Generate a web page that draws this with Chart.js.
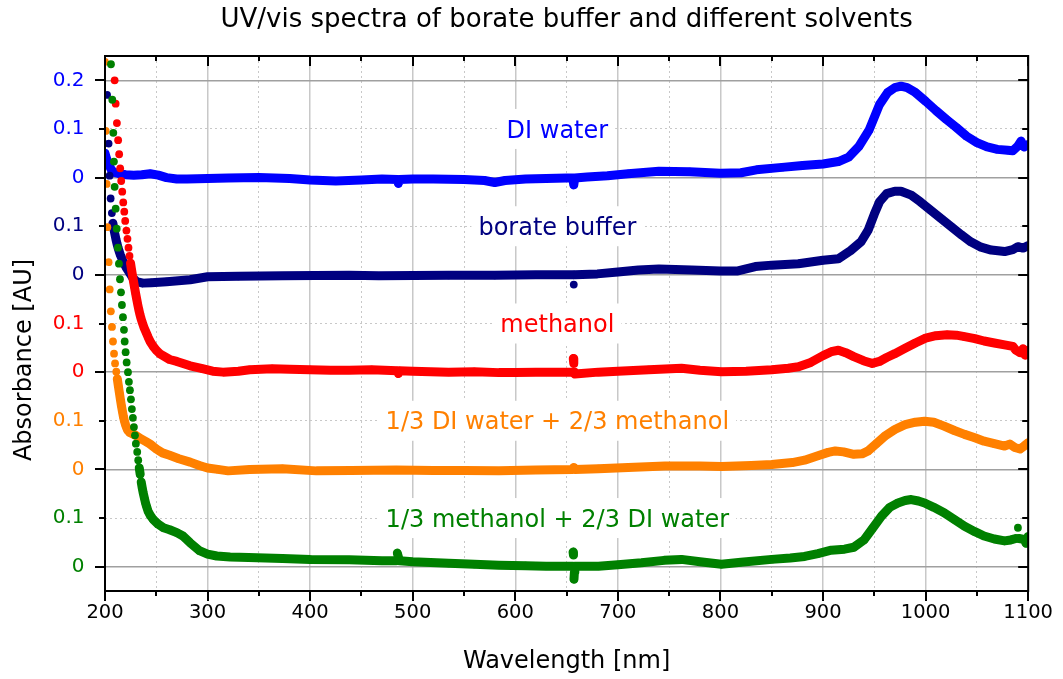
<!DOCTYPE html>
<html><head><meta charset="utf-8">
<script src="https://cdn.jsdelivr.net/npm/chart.js@4"></script>
<style>html,body{margin:0;padding:0;background:#fff;}#wrap{position:relative;width:1063px;height:679px;}</style>
</head><body><div id="wrap"><canvas id="c" width="1063" height="679"></canvas></div>
<script>
const chartTitle = 'UV/vis spectra of borate buffer and different solvents';
const xAxisTitle = 'Wavelength [nm]';
const yAxisTitle = 'Absorbance [AU]';

const seriesNames = ['DI water', 'borate buffer', 'methanol', '1/3 DI water + 2/3 methanol', '1/3 methanol + 2/3 DI water'];
const seriesColors = ['#0000ff', '#000080', '#ff0000', '#ff8000', '#008000'];
const seriesOffsets = [0.8, 0.6, 0.4, 0.2, 0.0];
const labelWavelength = 641;

const yTickValues = [0, 0.1, 0.2, 0.3, 0.4, 0.5, 0.6, 0.7, 0.8, 0.9, 1.0];
const yTickLabels = ['0', '0.1', '0', '0.1', '0', '0.1', '0', '0.1', '0', '0.1', '0.2'];
const yTickColors = ['#008000', '#008000', '#ff8000', '#ff8000', '#ff0000', '#ff0000', '#000080', '#000080', '#0000ff', '#0000ff', '#0000ff'];
const xTickStep = 50;

const waterWl = [200,201,202,204,206,208,210,214,220,228,236,244,252,260,270,280,300,320,350,380,400,425,450,470,485,486,487,500,520,550,570,580,590,610,630,650,656,657,658,670,690,710,740,770,800,820,835,860,880,900,915,925,935,945,955,963,970,976,982,990,1000,1010,1020,1030,1040,1050,1060,1070,1080,1085,1090,1093,1096,1100];
const waterAbs = [0.050,0.043,0.036,0.025,0.017,0.012,0.010,0.008,0.006,0.005,0.006,0.008,0.005,0.000,-0.003,-0.003,-0.002,-0.001,0.000,-0.002,-0.005,-0.007,-0.005,-0.003,-0.004,-0.012,-0.004,-0.003,-0.003,-0.004,-0.006,-0.010,-0.006,-0.003,-0.002,-0.001,-0.001,-0.015,-0.001,0.001,0.004,0.008,0.013,0.012,0.009,0.010,0.016,0.021,0.025,0.028,0.033,0.042,0.064,0.098,0.150,0.175,0.185,0.188,0.185,0.175,0.157,0.138,0.120,0.103,0.085,0.072,0.063,0.058,0.056,0.055,0.065,0.075,0.063,0.068];

const borateWl = [202,203.5,204.5,205.5,206.7,207.7,208.7,209.7,210.7,211.7,212.7,213.7,215,217,219,221,224,227,231,237,245,260,283,300,330,373,438,467,535,580,620,650,656,657,658,680,700,720,740,772,800,817,834,850,876,900,915,927,937,944,950,955,962,970,976,986,995,1005,1015,1025,1035,1044,1054,1064,1077,1085,1090,1095,1100];
const borateAbs = [0.370,0.270,0.204,0.157,0.127,0.106,0.094,0.083,0.073,0.064,0.056,0.049,0.041,0.031,0.022,0.014,0.004,-0.006,-0.014,-0.017,-0.016,-0.014,-0.010,-0.004,-0.003,-0.002,-0.001,-0.002,-0.001,-0.001,0.000,0.000,0.000,-0.020,0.000,0.002,0.006,0.010,0.012,0.010,0.008,0.008,0.017,0.020,0.023,0.030,0.033,0.050,0.068,0.092,0.125,0.150,0.167,0.172,0.172,0.164,0.150,0.133,0.116,0.099,0.082,0.068,0.057,0.051,0.048,0.052,0.058,0.055,0.060];

const methanolWl = [208.5,209.4,210.4,211.6,212.8,213.8,214.8,215.8,216.8,217.8,218.8,219.7,220.9,221.9,222.9,223.9,224.9,225.9,227,228,229,230,231,232,233,234,235,236,238,240,242,244,247,250,254,263,270,283,295,305,315,330,341,363,380,400,420,438,460,485,486,487,500,535,560,584,600,620,640,656,656.5,657,657.5,658,681,700,730,762,780,801,825,850,866,876,888,900,908,915,922,930,940,948,955,962,970,980,990,1000,1010,1021,1030,1038,1048,1057,1067,1077,1085,1088,1092,1095,1097,1100];
const methanolAbs = [0.660,0.600,0.552,0.512,0.477,0.448,0.419,0.393,0.371,0.349,0.330,0.311,0.291,0.274,0.256,0.239,0.224,0.210,0.196,0.184,0.172,0.160,0.149,0.138,0.128,0.119,0.111,0.104,0.092,0.082,0.072,0.063,0.053,0.045,0.037,0.026,0.022,0.013,0.007,0.002,0.000,0.002,0.005,0.007,0.006,0.005,0.004,0.004,0.005,0.003,-0.003,0.003,0.002,0.000,0.001,-0.001,-0.001,0.000,0.000,0.000,0.028,0.018,0.000,-0.004,0.000,0.002,0.005,0.008,0.004,0.001,0.002,0.005,0.008,0.011,0.020,0.034,0.042,0.045,0.040,0.032,0.023,0.018,0.022,0.030,0.038,0.049,0.060,0.070,0.075,0.077,0.076,0.073,0.069,0.064,0.060,0.056,0.053,0.045,0.040,0.048,0.035,0.045];

const mixAWl = [200,200.7,201.6,202.3,203.5,204.6,205.7,206.8,207.8,208.8,209.8,211,212,213,214,215,216,217,218,219,220,221,222,224,227,230,234,240,244,250,256,263,272,283,292,300,310,320,341,373,406,440,484,520,550,584,620,656,657,658,681,710,746,780,801,830,850,870,882,895,905,912,920,930,938,944,952,960,970,980,990,999,1008,1018,1028,1038,1048,1057,1067,1077,1082,1087,1092,1096,1100];
const mixAAbs = [0.838,0.696,0.587,0.498,0.426,0.370,0.325,0.293,0.263,0.238,0.218,0.201,0.186,0.172,0.158,0.144,0.131,0.119,0.108,0.099,0.092,0.086,0.081,0.076,0.073,0.070,0.064,0.057,0.052,0.042,0.034,0.029,0.022,0.015,0.008,0.003,0.000,-0.003,0.000,0.0015,-0.003,-0.002,-0.001,-0.002,-0.002,-0.003,-0.001,0.000,0.004,0.000,0.0015,0.004,0.007,0.007,0.006,0.008,0.010,0.014,0.019,0.028,0.035,0.038,0.036,0.031,0.032,0.038,0.053,0.068,0.082,0.092,0.097,0.099,0.097,0.089,0.080,0.072,0.065,0.058,0.053,0.048,0.052,0.045,0.042,0.048,0.055];

const mixBWl = [205,205.8,207.1,208.1,208.7,209.4,210.4,211.4,212.6,213.6,214.6,215.6,216.5,217.5,218.5,219.2,220.1,221.1,222.4,223.3,224.3,225.3,226.2,227.2,228.2,229.2,230.1,231.4,232.4,233.4,234.3,235.3,236.3,237.2,238.5,239.5,240.5,242,244,247,252,257,263,270,276,283,292,300,309,322,340,373,400,438,470,484,485,486,487,500,535,560,584,610,630,656,656.3,656.7,657.2,657.6,658,681,700,723,745,762,780,801,820,850,868,882,895,908,921,930,940,948,957,965,973,980,986,993,999,1008,1018,1028,1038,1048,1057,1067,1077,1083,1088,1090,1091,1096,1098,1100];
const mixBAbs = [1.100,1.033,0.960,0.892,0.833,0.781,0.736,0.695,0.656,0.623,0.591,0.564,0.538,0.513,0.487,0.463,0.441,0.420,0.400,0.380,0.363,0.344,0.324,0.306,0.287,0.270,0.253,0.236,0.219,0.203,0.190,0.174,0.162,0.152,0.140,0.131,0.124,0.114,0.106,0.097,0.087,0.080,0.076,0.070,0.063,0.049,0.033,0.026,0.022,0.020,0.019,0.017,0.015,0.014,0.012,0.012,0.028,0.020,0.012,0.010,0.007,0.005,0.003,0.002,0.001,0.001,0.030,0.024,-0.026,-0.012,0.001,0.001,0.004,0.008,0.013,0.015,0.010,0.005,0.009,0.015,0.018,0.021,0.027,0.034,0.036,0.040,0.055,0.078,0.104,0.122,0.131,0.136,0.138,0.135,0.131,0.122,0.111,0.097,0.083,0.072,0.063,0.057,0.053,0.055,0.058,0.080,0.058,0.056,0.048,0.062];

const seriesWl = [waterWl, borateWl, methanolWl, mixAWl, mixBWl];
const seriesAbs = [waterAbs, borateAbs, methanolAbs, mixAAbs, mixBAbs];

const FONT = '"DejaVu Sans", "Liberation Sans", Arial, sans-serif';

function steepSegment(ctx) {
  const dx = Math.abs(ctx.p1.x - ctx.p0.x);
  const dy = Math.abs(ctx.p1.y - ctx.p0.y);
  return dy > 7 && dx < 3;
}

const datasets = seriesWl.map((wl, i) => ({
  label: seriesNames[i],
  data: wl.map((w, j) => ({x: w, y: seriesAbs[i][j] + seriesOffsets[i]})),
  showLine: true,
  borderColor: seriesColors[i],
  backgroundColor: seriesColors[i],
  pointBackgroundColor: seriesColors[i],
  pointBorderColor: seriesColors[i],
  pointBorderWidth: 0,
  pointRadius: 3.9,
  pointHoverRadius: 3.9,
  borderWidth: 9,
  borderCapStyle: 'round',
  borderJoinStyle: 'round',
  tension: 0,
  order: 4 - i,
  segment: { borderColor: ctx => steepSegment(ctx) ? 'rgba(0,0,0,0)' : undefined }
}));

const frameTicks = {
  id: 'frameTicks',
  afterDraw(chart) {
    const {ctx, chartArea: {left, right, top, bottom}, scales: {x, y}} = chart;
    ctx.save();
    ctx.strokeStyle = '#000';
    ctx.lineWidth = 2;
    ctx.beginPath();
    y.ticks.forEach((t, i) => {
      const py = Math.round(y.getPixelForValue(t.value));
      const len = i % 2 === 0 ? 10 : 6;
      ctx.moveTo(left - len, py); ctx.lineTo(left, py);
      ctx.moveTo(right, py); ctx.lineTo(right - len, py);
    });
    x.ticks.forEach(t => {
      const px = Math.round(x.getPixelForValue(t.value));
      const len = t.value % 100 === 0 ? 10 : 5;
      ctx.moveTo(px, bottom); ctx.lineTo(px, bottom + len);
      ctx.moveTo(px, top); ctx.lineTo(px, top + len);
    });
    ctx.stroke();
    ctx.strokeRect(left, top, right - left, bottom - top);
    // y axis title
    ctx.fillStyle = '#000';
    ctx.font = '24px ' + FONT;
    ctx.textAlign = 'center';
    ctx.textBaseline = 'middle';
    ctx.translate(25, 360);
    ctx.rotate(-Math.PI / 2);
    ctx.fillText(yAxisTitle, 0, 0);
    ctx.restore();
  }
};

const seriesLabels = {
  id: 'seriesLabels',
  afterDatasetsDraw(chart) {
    const {ctx, scales: {x, y}} = chart;
    ctx.save();
    ctx.font = '24px ' + FONT;
    ctx.textAlign = 'center';
    ctx.textBaseline = 'alphabetic';
    seriesNames.forEach((name, i) => {
      const px = x.getPixelForValue(labelWavelength);
      const py = y.getPixelForValue(seriesOffsets[i] + 0.1);
      const w = ctx.measureText(name).width;
      ctx.fillStyle = '#ffffff';
      ctx.fillRect(px - w / 2 - 7, py - 20, w + 14, 40);
      ctx.fillStyle = seriesColors[i];
      ctx.fillText(name, px, py + 8.7);
    });
    ctx.restore();
  }
};

new Chart(document.getElementById('c'), {
  type: 'scatter',
  data: { datasets },
  options: {
    responsive: false,
    animation: false,
    devicePixelRatio: 1,
    layout: { padding: { left: 0, right: 32.5, top: 0, bottom: 0 } },
    plugins: {
      legend: { display: false },
      tooltip: { enabled: false },
      title: {
        display: true, text: chartTitle, fullSize: false, color: '#000',
        font: { family: FONT, size: 26, weight: 'normal', lineHeight: 1.2 },
        padding: { top: 5, bottom: 19.8 }
      }
    },
    scales: {
      x: {
        type: 'linear', min: 200, max: 1100,
        afterFit: s => { s.height = 88; },
        ticks: {
          stepSize: xTickStep, autoSkip: false, maxRotation: 0, padding: 10, color: '#000',
          font: { family: FONT, size: 19.5 },
          callback: v => (v % 100 === 0 ? String(v) : '')
        },
        grid: {
          drawTicks: false, color: '#c8c8c8',
          lineWidth: c => (c.tick && c.tick.value % 100 === 0 ? 1.5 : 1)
        },
        border: { display: false, dash: c => (c.tick && c.tick.value % 100 !== 0 ? [2, 3] : []) },
        title: {
          display: true, text: xAxisTitle, color: '#000',
          font: { family: FONT, size: 24, lineHeight: 1.2 }, padding: { top: 0, bottom: 3 }
        }
      },
      y: {
        type: 'linear', min: -0.05, max: 1.05,
        afterFit: s => { s.width = 105; },
        afterBuildTicks: s => { s.ticks = yTickValues.map(v => ({ value: v })); },
        ticks: {
          autoSkip: false, padding: 20.5,
          color: c => yTickColors[c.index],
          font: { family: FONT, size: 20 },
          callback: (v, i) => yTickLabels[i]
        },
        grid: {
          drawTicks: false,
          color: c => (c.tick && c.index % 2 === 0 ? '#a0a0a0' : '#c8c8c8'),
          lineWidth: c => (c.tick && c.index % 2 === 0 ? 1.5 : 1)
        },
        border: { display: false, dash: c => (c.tick && c.index % 2 === 1 ? [2, 3] : []) },
        title: { display: false, text: yAxisTitle }
      }
    }
  },
  plugins: [frameTicks, seriesLabels]
});
</script>
</body></html>
